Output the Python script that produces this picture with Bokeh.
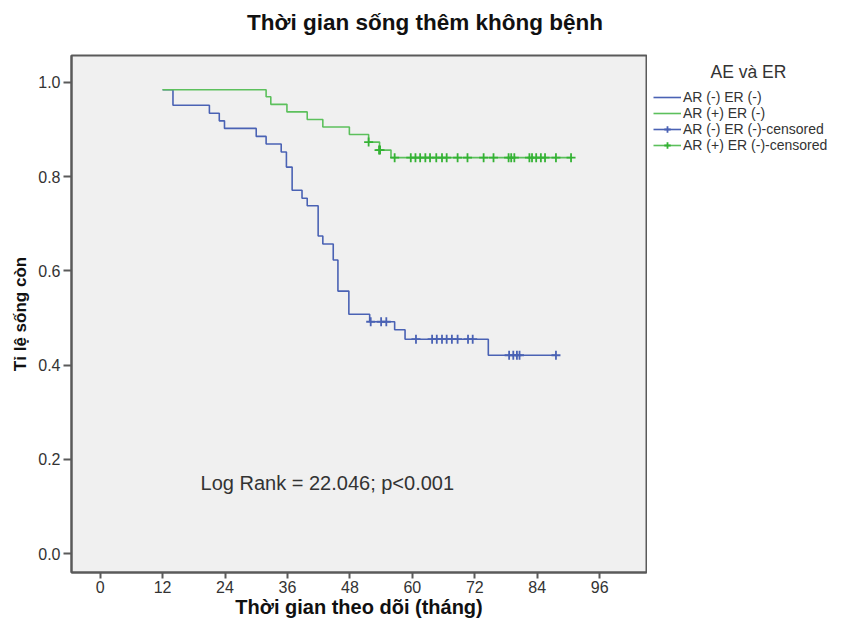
from bokeh.plotting import figure
from bokeh.layouts import row, column
from bokeh.models import Range1d, Label, Legend, LegendItem, FixedTicker, CustomJSTickFormatter
from bokeh.embed import file_html
from bokeh.resources import INLINE

# ---- data ----
blue_time = [12.0, 14.0, 21.0, 22.9, 23.9, 30.0, 31.9, 34.8, 35.8, 36.9, 38.8, 39.8,
             41.9, 42.8, 44.8, 45.7, 47.8, 51.8, 56.6, 58.6, 74.6, 87.6]
blue_surv = [0.984, 0.951, 0.934, 0.918, 0.902, 0.885, 0.869, 0.852, 0.820, 0.771, 0.754, 0.738,
             0.674, 0.657, 0.623, 0.557, 0.508, 0.492, 0.475, 0.455, 0.421, 0.421]
blue_cens_time = [52.0, 54.0, 55.0, 60.7, 63.8, 64.7, 65.7, 66.6, 67.6, 68.7, 70.7, 71.6,
                  78.6, 79.4, 80.1, 80.6, 87.6]
blue_cens_surv = [0.492, 0.492, 0.492, 0.455, 0.455, 0.455, 0.455, 0.455, 0.455, 0.455, 0.455, 0.455,
                  0.421, 0.421, 0.421, 0.421, 0.421]

green_time = [12.0, 31.9, 32.8, 35.9, 39.8, 42.8, 47.9, 51.6, 53.7, 55.9, 90.5]
green_surv = [0.984, 0.969, 0.953, 0.937, 0.921, 0.905, 0.889, 0.873, 0.856, 0.840, 0.840]
green_cens_time = [51.6, 53.6, 53.8, 56.6, 59.7, 60.6, 61.5, 62.5, 63.4, 64.6, 65.7, 66.6, 68.7,
                   70.6, 73.7, 75.6, 78.5, 79.0, 79.6, 82.5, 83.0, 83.8, 84.7, 85.5, 87.6, 90.5]
green_cens_surv = [0.873, 0.856, 0.856] + [0.840] * 23

x_ticks = [0, 12, 24, 36, 48, 60, 72, 84, 96]
y_ticks = [0.0, 0.2, 0.4, 0.6, 0.8, 1.0]

series_names = ["AR (-) ER (-)", "AR (+) ER (-)", "AR (-) ER (-)-censored", "AR (+) ER (-)-censored"]
title_text = "Thời gian sống thêm không bệnh"
x_label = "Thời gian theo dõi (tháng)"
y_label = "Tỉ lệ sống còn"
legend_title = "AE và ER"
stat_text = "Log Rank = 22.046; p<0.001"

BLUE = "#4a62b4"
GREEN = "#5cc05c"
GREEN_DARK = "#35b235"
FONT = "Liberation Sans"
TXT = "#333333"

TOTAL_W, MAIN_W, LEG_W, H = 829, 647, 182, 621
TITLE_H = 40
TOP, BOTTOM = 55, 49          # frame top / bottom border in page pixels
BODY_H = H - TITLE_H

# ---- title strip ----
t = figure(width=TOTAL_W, height=TITLE_H, output_backend="svg", toolbar_location=None, title=None,
           x_range=Range1d(0, TOTAL_W), y_range=Range1d(0, TITLE_H),
           x_axis_location=None, y_axis_location=None,
           min_border_left=0, min_border_right=0, min_border_top=0, min_border_bottom=0)
t.outline_line_color = None
t.background_fill_color = "white"
t.border_fill_color = "white"
t.grid.visible = False
t.add_layout(Label(x=424.5, y=TITLE_H - 22, text=title_text, text_align="center", text_baseline="middle",
                   text_font=FONT, text_font_style="bold", text_font_size="22.5px", text_color="#111111"))

# ---- main plot ----
p = figure(width=MAIN_W, height=BODY_H, output_backend="svg", toolbar_location=None, title=None,
           x_range=Range1d(-5.5, 105.0), y_range=Range1d(-0.0397, 1.0566),
           min_border_left=71, min_border_right=1, min_border_top=TOP - TITLE_H, min_border_bottom=BOTTOM)

p.background_fill_color = "#f0f0f0"
p.border_fill_color = "white"
p.outline_line_color = "#5a5a5a"
p.outline_line_width = 2
p.grid.visible = False

for ax in (p.xaxis[0], p.yaxis[0]):
    ax.axis_line_color = "#5a5a5a"
    ax.axis_line_width = 2
    ax.major_tick_line_color = "#5a5a5a"
    ax.major_tick_line_width = 2
    ax.major_tick_in = 0
    ax.minor_tick_line_color = None
    ax.major_label_text_font = FONT
    ax.major_label_text_font_size = "16px"
    ax.major_label_text_color = TXT
    ax.axis_label_text_font = FONT
    ax.axis_label_text_font_style = "bold"
    ax.axis_label_text_color = "#111111"

p.xaxis.ticker = FixedTicker(ticks=x_ticks)
p.yaxis.ticker = FixedTicker(ticks=y_ticks)
p.yaxis.formatter = CustomJSTickFormatter(code="return tick.toFixed(1);")
p.xaxis.major_tick_out = 6
p.yaxis.major_tick_out = 8
p.xaxis.major_label_standoff = 2
p.yaxis.major_label_standoff = 3
p.xaxis.axis_label = x_label
p.yaxis.axis_label = y_label
p.xaxis.axis_label_text_font_size = "20px"
p.yaxis.axis_label_text_font_size = "17px"
p.xaxis.axis_label_standoff = 0
p.yaxis.axis_label_standoff = 5

p.step(blue_time, blue_surv, mode="after", line_color=BLUE, line_width=1.6)
p.step(green_time, green_surv, mode="after", line_color=GREEN, line_width=1.6)
p.scatter(blue_cens_time, blue_cens_surv, marker="cross", size=9, line_color=BLUE, line_width=1.8)
p.scatter(green_cens_time, green_cens_surv, marker="cross", size=9, line_color=GREEN_DARK, line_width=1.8)

p.add_layout(Label(x=19.3, y=0.151, text=stat_text, text_align="left", text_baseline="middle",
                   text_font=FONT, text_font_size="20px", text_color=TXT))

# ---- legend panel (data units = page pixels, y measured up from page bottom) ----
q = figure(width=LEG_W, height=BODY_H, output_backend="svg", toolbar_location=None, title=None,
           x_range=Range1d(0, LEG_W), y_range=Range1d(BOTTOM, H - TOP),
           x_axis_location=None, y_axis_location=None,
           min_border_left=0, min_border_right=0, min_border_top=TOP - TITLE_H, min_border_bottom=BOTTOM)
q.outline_line_color = None
q.background_fill_color = "white"
q.border_fill_color = "white"
q.grid.visible = False

# legend swatches only (a single point placed outside the visible range)
lb = q.step([-100], [-100], line_color=BLUE, line_width=1.6)
lg = q.step([-100], [-100], line_color=GREEN, line_width=1.6)
lbc = q.scatter([-100], [-100], marker="cross", size=9, line_color=BLUE, line_width=1.8)
lgc = q.scatter([-100], [-100], marker="cross", size=9, line_color=GREEN_DARK, line_width=1.8)

ROW_H = 16
legend = Legend(items=[
    LegendItem(label=series_names[0], renderers=[lb]),
    LegendItem(label=series_names[1], renderers=[lg]),
    LegendItem(label=series_names[2], renderers=[lb, lbc]),
    LegendItem(label=series_names[3], renderers=[lg, lgc]),
], location=(6, (H - BOTTOM) - 89 - 4 * ROW_H))
legend.border_line_color = None
legend.background_fill_alpha = 0
legend.padding = 0
legend.margin = 0
legend.spacing = 0
legend.glyph_width = 28
legend.glyph_height = ROW_H
legend.label_height = ROW_H
legend.label_standoff = 2
legend.label_text_font = FONT
legend.label_text_font_size = "14px"
legend.label_text_color = TXT
legend.label_text_line_height = 1.0
q.add_layout(legend, "center")

q.add_layout(Label(x=101, y=H - 71.5, text=legend_title, text_align="center", text_baseline="middle",
                   text_font=FONT, text_font_size="17.5px", text_color=TXT))

open("out.html", "w").write(file_html(column(t, row(p, q)), INLINE))
